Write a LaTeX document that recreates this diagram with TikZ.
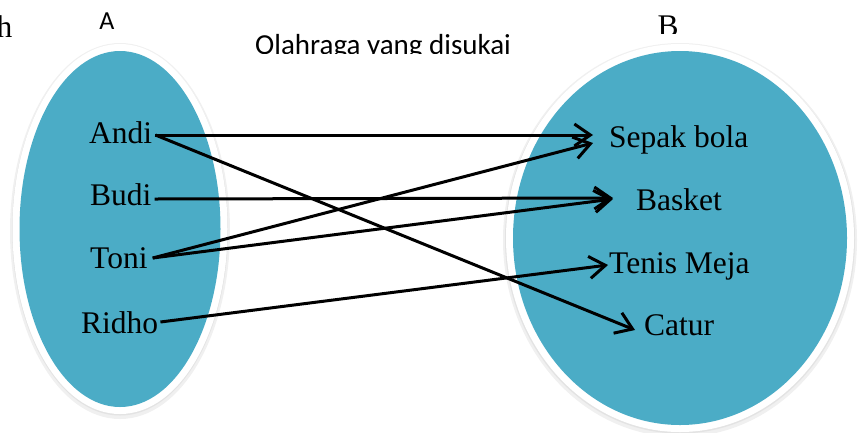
\documentclass[tikz,border=0pt]{standalone}
\usepackage{fontspec}
\setmainfont{Liberation Serif}
\newfontfamily\calib{Carlito}
\usetikzlibrary{arrows.meta}
\definecolor{aqua}{HTML}{4BACC6}
\begin{document}
\begin{tikzpicture}[x=1pt,y=-1pt,
  item/.style={inner sep=0pt, anchor=base west, font=\fontsize{31.5}{36}\selectfont},
  arr/.style={line width=3pt, -{Straight Barb[length=16pt,width=22pt]}},
  shadowa/.style={black!6, line width=4pt},
  shadowb/.style={black!11, line width=2pt},
  whitering/.style={white, line width=7pt}]
\useasboundingbox (0,0) rectangle (858,432);
% left set
\draw[shadowa] (120,231) ellipse [x radius=108pt, y radius=186pt];
\draw[shadowb] (120,230) ellipse [x radius=107pt, y radius=184.5pt];
\draw[whitering] (120,229) ellipse [x radius=104pt, y radius=181.5pt];
\fill[aqua] (120,229) ellipse [x radius=100.5pt, y radius=178pt];
% right set
\draw[shadowa] (680,240) ellipse [x radius=175pt, y radius=195pt];
\draw[shadowb] (680,239) ellipse [x radius=174pt, y radius=193.5pt];
\draw[whitering] (680,238) ellipse [x radius=170.5pt, y radius=190.5pt];
\fill[aqua] (680,238) ellipse [x radius=167pt, y radius=187pt];
% labels
\node[item, anchor=base east] (h) at (12.5,37) {h};
\node[font=\calib\fontsize{26}{30}\selectfont, inner sep=0pt, anchor=base] (seta) at (107,29) {A};
\begin{scope}
\clip (600,0) rectangle (740,33);
\node[item, anchor=base] (setb) at (668,36) {B};
\end{scope}
\begin{scope}
\clip (200,0) rectangle (560,53);
\node[font=\calib\fontsize{29}{34}\selectfont, inner sep=0pt, anchor=base west] (title) at (255,54.5) {Olahraga yang disukai};
\end{scope}
% elements
\node[item] (andi) at (89,143) {Andi};
\node[item] (budi) at (90,205) {Budi};
\node[item] (toni) at (90,268) {Toni};
\node[item] (ridho) at (81,333) {Ridho};
\node[item] (sepak) at (609,147) {Sepak bola};
\node[item] (basket) at (636,210) {Basket};
\node[item] (tenis) at (609,273) {Tenis Meja};
\node[item] (catur) at (644,335) {Catur};
% arrows
\draw[arr] ([xshift=3pt,yshift=8pt]andi.base east) -- ([xshift=-16pt,yshift=12pt]sepak.base west);
\draw[arr] ([xshift=3pt,yshift=8pt]andi.base east) -- ([xshift=-9pt,yshift=5pt]catur.base west);
\draw[arr] ([xshift=3pt,yshift=6pt]budi.base east) -- ([xshift=-23pt,yshift=12pt]basket.base west);
\draw[arr] ([xshift=5pt,yshift=10pt]toni.base east) -- ([xshift=-16pt,yshift=4pt]sepak.base west);
\draw[arr] ([xshift=5pt,yshift=10pt]toni.base east) -- ([xshift=-23pt,yshift=11pt]basket.base west);
\draw[arr] ([xshift=2pt,yshift=11pt]ridho.base east) -- ([xshift=-1pt,yshift=8pt]tenis.base west);
\end{tikzpicture}
\end{document}
